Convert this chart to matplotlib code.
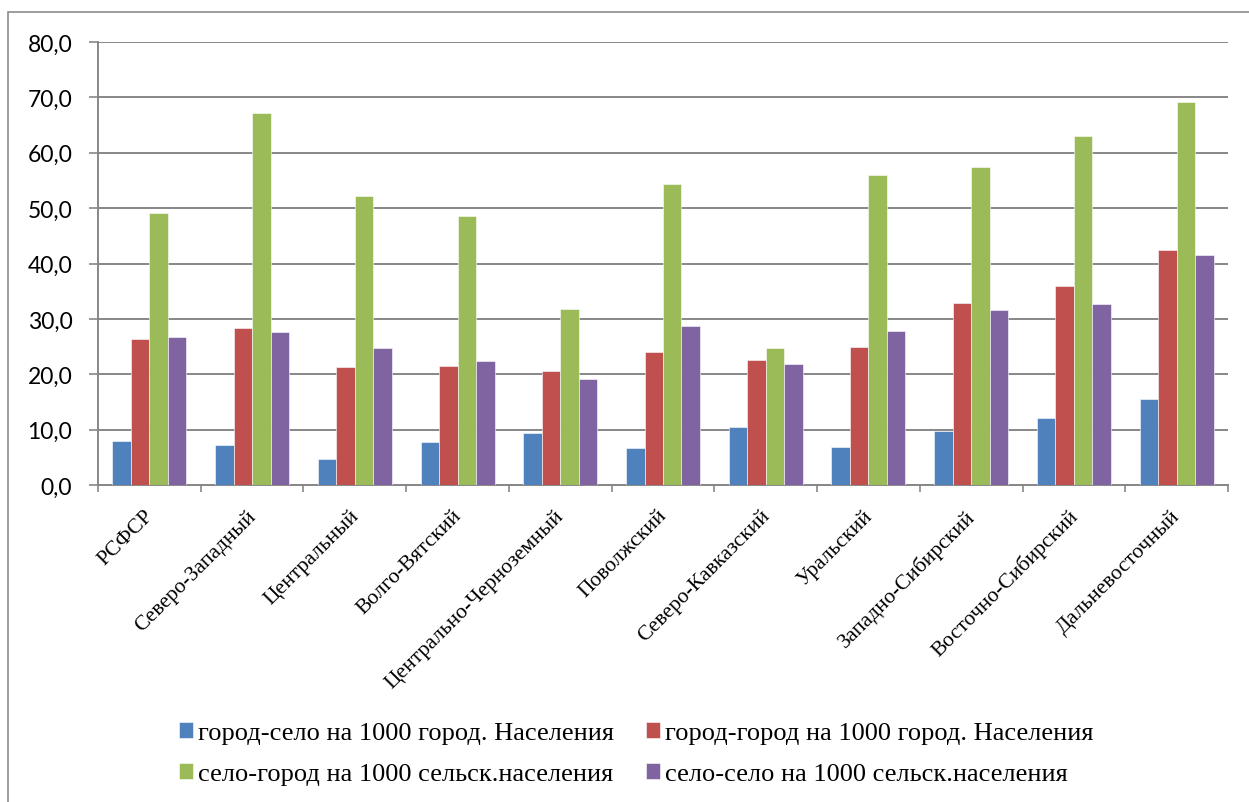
import numpy as np
import matplotlib
matplotlib.use('Agg')
import matplotlib.pyplot as plt
from matplotlib.patches import Rectangle
from matplotlib.transforms import ScaledTranslation

# Data
regions = ['РСФСР', 'Северо-Западный', 'Центральный', 'Волго-Вятский',
           'Центрально-Черноземный', 'Поволжский', 'Северо-Кавказский',
           'Уральский', 'Западно-Сибирский', 'Восточно-Сибирский',
           'Дальневосточный']
city_village = [8.0, 7.2, 4.7, 7.8, 9.4, 6.6, 10.5, 6.9, 9.7, 12.1, 15.6]
city_city = [26.3, 28.3, 21.3, 21.4, 20.6, 24.1, 22.6, 25.0, 32.8, 35.9, 42.5]
village_city = [49.1, 67.2, 52.1, 48.5, 31.7, 54.3, 24.7, 55.9, 57.5, 63.1, 69.2]
village_village = [26.8, 27.7, 24.8, 22.4, 19.2, 28.8, 21.8, 27.9, 31.6, 32.7, 41.6]

series_names = ['город-село на 1000 город. Населения',
                'город-город на 1000 город. Населения',
                'село-город на 1000 сельск.населения',
                'село-село на 1000 сельск.населения']
y_ticks = [0, 10, 20, 30, 40, 50, 60, 70, 80]

colors = ['#4F81BD', '#C0504D', '#9BBB59', '#8064A2']

W, H = 1249, 803
fig = plt.figure(figsize=(W / 100, H / 100), dpi=100)

# chart area border (only left and top edges fall inside the picture)
fig.patches.append(Rectangle((8 / W, -0.5), 2.0, 1.5 - 13 / H, transform=fig.transFigure,
                             fill=False, edgecolor='#8c8c8c', linewidth=1.2))

ax = fig.add_axes([98 / W, 1 - 486 / H, (1228 - 98) / W, (486 - 43) / H])

x = np.arange(len(regions))
bw = 0.18
all_series = [city_village, city_city, village_city, village_village]
bars = []
for i, (vals, col) in enumerate(zip(all_series, colors)):
    b = ax.bar(x + (i - 1.5) * bw, vals, width=bw, color=col,
               edgecolor='white', linewidth=0.4, zorder=3, label=series_names[i])
    bars.append(b)

ax.set_xlim(-0.5, len(regions) - 0.5)
ax.set_ylim(0, 80)
ax.set_yticks(y_ticks)
ax.set_yticklabels([f'{v:.1f}'.replace('.', ',') for v in y_ticks],
                   fontfamily='Lato', fontsize=16.5)
ax.yaxis.grid(True, color='#878787', linewidth=1.4, zorder=0)
ax.tick_params(axis='y', length=6.5, width=1.2, color='#878787', pad=12)

# category boundaries as major ticks, labels on minor ticks
ax.set_xticks(np.arange(-0.5, len(regions) + 0.5, 1.0))
ax.set_xticklabels([])
ax.set_xticks(x, minor=True)
ax.set_xticklabels(regions, minor=True, rotation=45, ha='right', va='top',
                   rotation_mode='anchor', fontfamily='Liberation Serif',
                   fontsize=15.5)
ax.tick_params(axis='x', which='major', length=5, width=1.2, color='#878787')
ax.tick_params(axis='x', which='minor', length=0, pad=15)
shift = ScaledTranslation(-0.06, 0, fig.dpi_scale_trans)
for lbl in ax.get_xticklabels(minor=True):
    lbl.set_transform(lbl.get_transform() + shift)

for side in ['top', 'right']:
    ax.spines[side].set_visible(False)
for side in ['left', 'bottom']:
    ax.spines[side].set_color('#878787')
    ax.spines[side].set_linewidth(1.4)

handles = [bars[0], bars[2], bars[1], bars[3]]
labels = [series_names[0], series_names[2], series_names[1], series_names[3]]
fig.legend(handles, labels, ncol=2, loc='upper left',
           bbox_to_anchor=(179 / W, 1 - 723 / H), frameon=False,
           prop={'family': 'Liberation Serif', 'size': 19},
           handlelength=0.53, handleheight=0.53, handletextpad=0.2,
           columnspacing=1.2, labelspacing=0.72, borderpad=0, borderaxespad=0)

fig.savefig('out.png', dpi=100)
